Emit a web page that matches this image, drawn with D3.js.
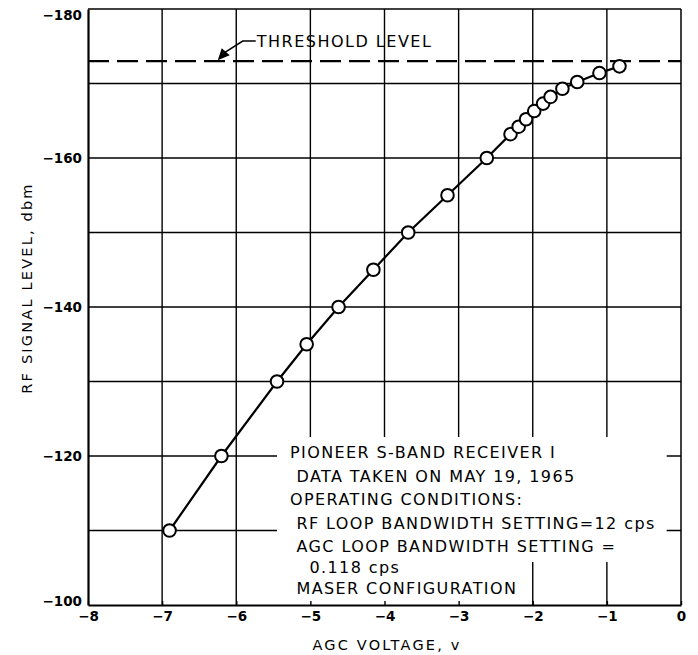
<!DOCTYPE html>
<html><head><meta charset="utf-8">
<script src="https://cdn.jsdelivr.net/npm/d3@7"></script>
<style>
html,body{margin:0;padding:0;background:#fff;}
svg{display:block;}
text{font-family:"DejaVu Sans",sans-serif;fill:#000;}
</style></head>
<body>
<svg id="chart" width="698" height="655"></svg>
<script>
// ---- data ----
const agcVoltage = [-6.9, -6.2, -5.45, -5.05, -4.62, -4.15, -3.68, -3.15, -2.62, -2.30, -2.19, -2.09, -1.98, -1.86, -1.76, -1.60, -1.40, -1.10, -0.83];
const rfSignal   = [-110, -120, -130, -135, -140, -145, -150, -155, -160, -163.2, -164.2, -165.2, -166.3, -167.3, -168.2, -169.3, -170.2, -171.4, -172.3];
const thresholdLevel = -173;
const xTicks = [-8, -7, -6, -5, -4, -3, -2, -1, 0];
const yTickLabels = [-180, -160, -140, -120, -100];
const yGrid = [-170, -160, -150, -140, -130, -120, -110];
const xGrid = [-7, -6, -5, -4, -3, -2, -1];
const noteLines = [
  "PIONEER S-BAND RECEIVER I",
  " DATA TAKEN ON MAY 19, 1965",
  "OPERATING CONDITIONS:",
  " RF LOOP BANDWIDTH SETTING=12 cps",
  " AGC LOOP BANDWIDTH SETTING =",
  "   0.118 cps",
  " MASER CONFIGURATION"
];

const svg = d3.select("#chart");
const L = 88, R = 681, T = 9, B = 605;
const x = d3.scaleLinear().domain([-8, 0]).range([L, R]);
const y = d3.scaleLinear().domain([-180, -100]).range([T, B]);

// grid
const grid = svg.append("g").attr("stroke", "#000").attr("stroke-width", 1.4);
grid.selectAll("line.h").data(yGrid).join("line").attr("class","h")
  .attr("x1", L).attr("x2", R).attr("y1", d => y(d)).attr("y2", d => y(d));
grid.selectAll("line.v").data(xGrid).join("line").attr("class","v")
  .attr("y1", T).attr("y2", B).attr("x1", d => x(d)).attr("x2", d => x(d));

// annotation text (with white masks)
const noteG = svg.append("g");
const maskG = noteG.append("g");
const textG = noteG.append("g");
const lineGap = 23.5;
const noteX = 290, noteY0 = 458;
textG.selectAll("text").data(noteLines).join("text")
  .attr("x", noteX).attr("y", (d,i) => noteY0 + i*lineGap - (i>=5 ? (i-4)*2.5 : 0))
  .attr("font-size", 16).attr("letter-spacing", 1.4)
  .attr("xml:space","preserve").style("white-space","pre")
  .text(d => d);
const nodes = textG.selectAll("text").nodes();
function unionBox(ns){
  let x0=Infinity,y0=Infinity,x1=-Infinity,y1=-Infinity;
  ns.forEach(n=>{const b=n.getBBox();x0=Math.min(x0,b.x);y0=Math.min(y0,b.y);x1=Math.max(x1,b.x+b.width);y1=Math.max(y1,b.y+b.height);});
  return {x0,y0,x1,y1};
}
const b1 = unionBox(nodes.slice(0,5));
const b2 = unionBox(nodes.slice(5));
maskG.append("rect").attr("x", b1.x0-13).attr("y", b1.y0-6).attr("width", b1.x1-b1.x0+24).attr("height", b1.y1-b1.y0+12).attr("fill","#fff");
maskG.append("rect").attr("x", b1.x0-13).attr("y", b1.y1).attr("width", (b2.x1-b1.x0)+20).attr("height", B-b1.y1).attr("fill","#fff");

// threshold
svg.append("line").attr("x1", L).attr("x2", R).attr("y1", y(thresholdLevel)).attr("y2", y(thresholdLevel))
  .attr("stroke","#000").attr("stroke-width",2.4).attr("stroke-dasharray","21,8");

// threshold label with arrow
const tipX = x(-6.25), tipY = y(thresholdLevel)-1;
const elbowX = tipX + 25, elbowY = 41;
svg.append("path").attr("d", `M${elbowX+13},${elbowY} L${elbowX},${elbowY} L${tipX+6},${tipY-7}`)
  .attr("fill","none").attr("stroke","#000").attr("stroke-width",1.6);
svg.append("path").attr("d", `M${tipX},${tipY} L${tipX+4},${tipY-12} L${tipX+12},${tipY-5} Z`).attr("fill","#000");
svg.append("text").attr("x", elbowX+14).attr("y", 47).attr("font-size",16).attr("letter-spacing",1.5).text("THRESHOLD LEVEL");

// frame
const frame = svg.append("g").attr("fill","none").attr("stroke","#000");
frame.append("line").attr("x1",L).attr("x2",R).attr("y1",T).attr("y2",T).attr("stroke-width",1.5);
frame.append("line").attr("x1",R).attr("x2",R).attr("y1",T).attr("y2",B).attr("stroke-width",1.5);

// axes
const xAxis = svg.append("g").attr("transform",`translate(0,${B})`)
  .call(d3.axisBottom(x).tickValues(xTicks).tickSize(-4).tickPadding(6).tickSizeOuter(0));
xAxis.select(".domain").attr("stroke-width",2.2);
xAxis.selectAll(".tick line").attr("stroke-width",1.4);
xAxis.selectAll("text").attr("font-size",13.5).attr("font-weight","bold").attr("font-family","DejaVu Sans");
const yAxis = svg.append("g").attr("transform",`translate(${L},0)`)
  .call(d3.axisLeft(y).tickValues(yTickLabels).tickSize(0).tickPadding(6).tickSizeOuter(0));
yAxis.select(".domain").attr("stroke-width",2.2);
yAxis.selectAll("text").attr("font-size",13.5).attr("font-weight","bold").attr("font-family","DejaVu Sans")
  .attr("dy", d => d === -180 ? "0.75em" : d === -100 ? "0.05em" : "0.32em");

// axis titles
svg.append("text").attr("transform","translate(32,288) rotate(-90)").attr("text-anchor","middle")
  .attr("font-size",14.5).attr("letter-spacing",2.2).text("RF SIGNAL LEVEL, dbm");
svg.append("text").attr("x",387).attr("y",650).attr("text-anchor","middle")
  .attr("font-size",14.5).attr("letter-spacing",2.2).text("AGC VOLTAGE, v");

// data line + points
const pts = agcVoltage.map((v,i)=>[v, rfSignal[i]]);
svg.append("path").datum(pts).attr("fill","none").attr("stroke","#000").attr("stroke-width",2.2)
  .attr("d", d3.line().x(d=>x(d[0])).y(d=>y(d[1])));
svg.selectAll("circle.pt").data(pts).join("circle").attr("class","pt")
  .attr("cx", d=>x(d[0])).attr("cy", d=>y(d[1])).attr("r",6.3)
  .attr("fill","#fff").attr("stroke","#000").attr("stroke-width",2);
</script>
</body></html>
